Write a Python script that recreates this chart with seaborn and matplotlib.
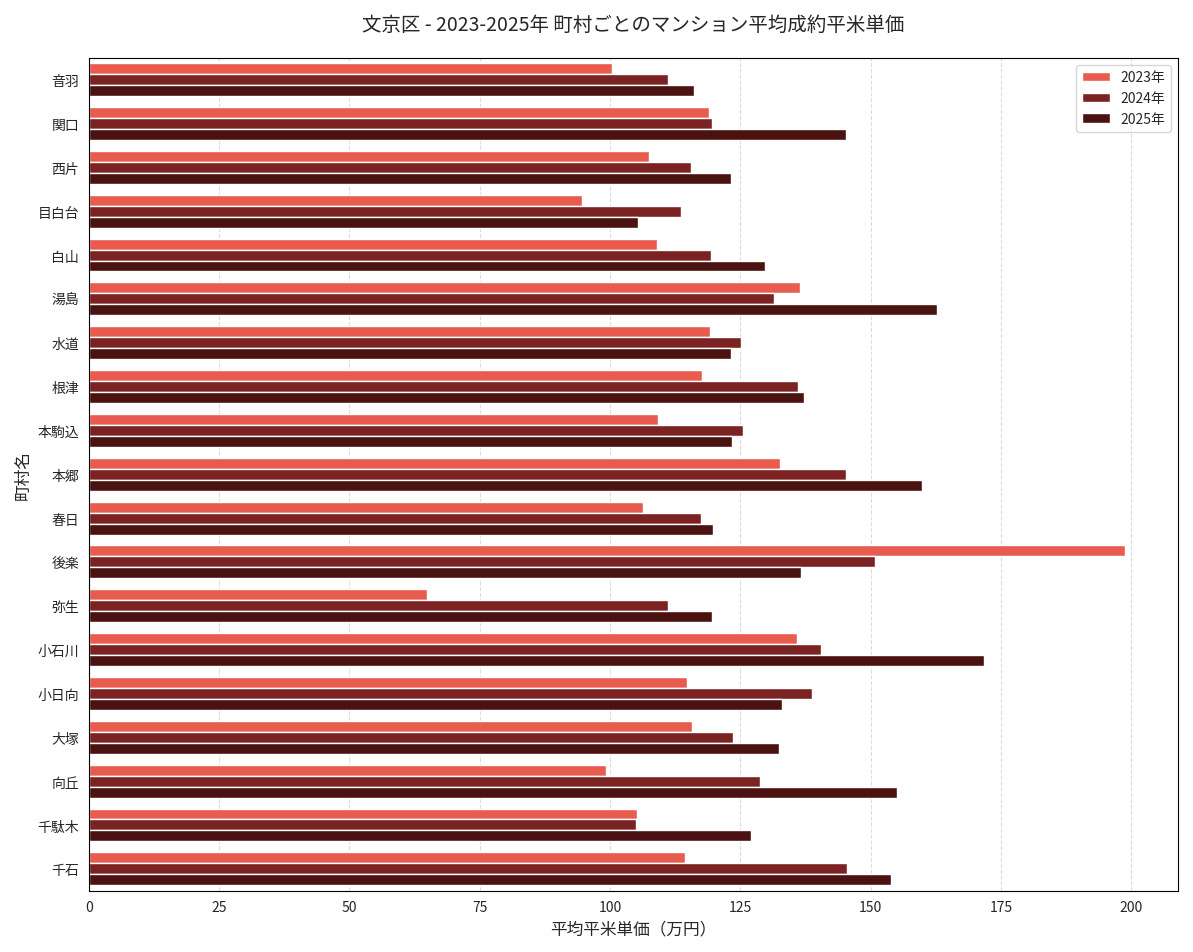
import numpy as np
import pandas as pd
import matplotlib.pyplot as plt
import seaborn as sns

sns.set_style("white")
plt.rcParams['font.family'] = ['Noto Sans CJK JP', 'DejaVu Sans']

towns = ['音羽', '関口', '西片', '目白台', '白山', '湯島', '水道', '根津', '本駒込', '本郷',
         '春日', '後楽', '弥生', '小石川', '小日向', '大塚', '向丘', '千駄木', '千石']
v2023 = [100.3, 119.0, 107.5, 94.6, 109.0, 136.5, 119.2, 117.7, 109.2, 132.6,
         106.3, 198.8, 64.9, 135.9, 114.7, 115.8, 99.3, 105.2, 114.3]
v2024 = [111.1, 119.6, 115.6, 113.7, 119.4, 131.5, 125.1, 136.0, 125.6, 145.3,
         117.5, 150.8, 111.1, 140.4, 138.7, 123.6, 128.7, 105.0, 145.5]
v2025 = [116.2, 145.3, 123.2, 105.4, 129.8, 162.7, 123.2, 137.2, 123.4, 159.9,
         119.8, 136.6, 119.6, 171.8, 133.0, 132.5, 155.0, 127.0, 154.0]
years = ['2023年', '2024年', '2025年']
colors = ['#E85C4F', '#7B2222', '#4A1210']

df = pd.DataFrame({'町村名': towns * 3,
                   '値': v2023 + v2024 + v2025,
                   '年': sum([[y] * len(towns) for y in years], [])})

fig, ax = plt.subplots(figsize=(11.93, 9.53), dpi=100)
sns.barplot(data=df, y='町村名', x='値', hue='年', palette=colors, orient='h',
            width=0.75, saturation=1, ax=ax)
ax.set_xlim(0, 209)
ax.set_xlabel('平均平米単価（万円）', fontsize=12)
ax.set_ylabel('町村名', fontsize=12)
ax.set_title('文京区 - 2023-2025年 町村ごとのマンション平均成約平米単価', fontsize=14, pad=20)
ax.xaxis.grid(True, linestyle='--', alpha=0.7)
ax.set_axisbelow(True)
ax.legend(loc='upper right', title=None)
for s in ax.spines.values():
    s.set_color('black')
plt.tight_layout()
plt.savefig('out.png')
